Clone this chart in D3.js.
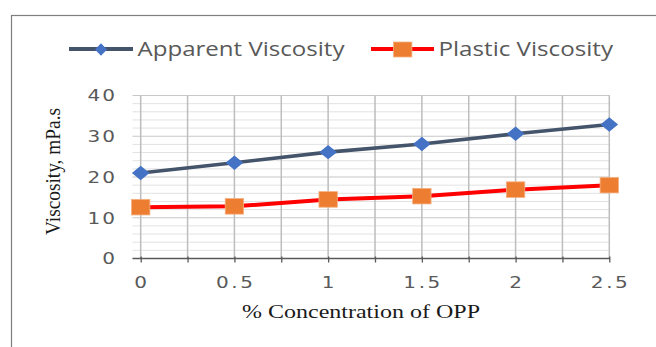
<!DOCTYPE html>
<html>
<head>
<meta charset="utf-8">
<script src="https://cdn.jsdelivr.net/npm/d3@7/dist/d3.min.js"></script>
<style>
  html, body { margin: 0; padding: 0; background: #fff; }
  svg { display: block; }
</style>
</head>
<body>
<svg id="chart" width="656" height="347"></svg>
<script>
// Viscosity versus OPP concentration
const concentrations = [0, 0.5, 1, 1.5, 2, 2.5];
const apparentViscosity = [21, 23.5, 26.1, 28.1, 30.6, 32.9];
const plasticViscosity = [12.6, 12.8, 14.5, 15.3, 16.9, 18.0];
const xTickValues = [0, 0.5, 1, 1.5, 2, 2.5];
const yTickValues = [0, 10, 20, 30, 40];
const seriesNames = ["Apparent Viscosity", "Plastic Viscosity"];

const svg = d3.select("#chart");

// outer frame
svg.append("rect")
  .attr("x", 11.5).attr("y", 15.5)
  .attr("width", 700).attr("height", 400)
  .attr("fill", "none").attr("stroke", "#7f7f7f").attr("stroke-width", 1.2);

const x = d3.scaleLinear().domain([0, 2.5]).range([140.7, 609.3]);
const y = d3.scaleLinear().domain([0, 40]).range([258.5, 95.5]);
const plotLeft = 132.5, plotRight = 610;

// minor horizontal gridlines every 2
const minorY = d3.range(0, 41, 2).filter(v => v % 10 !== 0);
svg.append("g").selectAll("line").data(minorY).join("line")
  .attr("x1", plotLeft).attr("x2", plotRight)
  .attr("y1", d => y(d)).attr("y2", d => y(d))
  .attr("stroke", "#e2e2e2").attr("stroke-width", 1);

// major horizontal gridlines
svg.append("g").selectAll("line").data(yTickValues.filter(v => v > 0)).join("line")
  .attr("x1", plotLeft).attr("x2", plotRight)
  .attr("y1", d => y(d)).attr("y2", d => y(d))
  .attr("stroke", "#c8c8c8").attr("stroke-width", 1.2);

// vertical gridlines every 0.25
const xGrid = d3.range(0, 2.51, 0.25);
svg.append("g").selectAll("line").data(xGrid).join("line")
  .attr("x1", d => x(d)).attr("x2", d => x(d))
  .attr("y1", y(40)).attr("y2", y(0))
  .attr("stroke", "#bdbdbd").attr("stroke-width", 1.5);

// x axis line and ticks
const xAxis = d3.axisBottom(x).tickValues(xGrid).tickSize(4).tickFormat("");
const gx = svg.append("g").attr("transform", `translate(0,${y(0)})`).call(xAxis);
gx.select(".domain").remove();
gx.selectAll(".tick line").attr("stroke", "#595959").attr("stroke-width", 1.3).attr("y1", -2);
svg.append("line")
  .attr("x1", plotLeft).attr("x2", plotRight)
  .attr("y1", y(0)).attr("y2", y(0))
  .attr("stroke", "#595959").attr("stroke-width", 1.5);

// tick label font is drawn slightly widened
const stretch = 1.25;
const fmt = d => String(d);

// x tick labels
svg.append("g").selectAll("text").data(xTickValues).join("text")
  .attr("transform", d => `translate(${x(d)},288) scale(${stretch},1)`)
  .attr("text-anchor", "middle")
  .attr("font-family", "DejaVu Sans").attr("font-size", 16)
  .attr("fill", "#595959")
  .each(function (d) {
    const s = fmt(d);
    const t = d3.select(this).text(s);
    if (s.length > 1) t.attr("textLength", 37 / stretch).attr("lengthAdjust", "spacing");
  });

// y tick labels
svg.append("g").selectAll("text").data(yTickValues).join("text")
  .attr("transform", d => `translate(115,${y(d)}) scale(${stretch},1)`)
  .attr("dy", "0.36em")
  .attr("text-anchor", "end")
  .attr("font-family", "DejaVu Sans").attr("font-size", 16)
  .attr("fill", "#595959")
  .each(function (d) {
    const s = fmt(d);
    const t = d3.select(this).text(s);
    if (s.length > 1) t.attr("textLength", 27.5 / stretch).attr("lengthAdjust", "spacing");
  });

// axis titles
svg.append("text")
  .attr("x", 361).attr("y", 318)
  .attr("text-anchor", "middle")
  .attr("font-family", "Liberation Serif").attr("font-size", 19)
  .attr("fill", "#1a1a1a")
  .attr("textLength", 238).attr("lengthAdjust", "spacingAndGlyphs")
  .text("% Concentration of OPP");

svg.append("text")
  .attr("transform", "translate(60,171.5) rotate(-90) scale(1,1.2)")
  .attr("text-anchor", "middle")
  .attr("font-family", "Liberation Serif").attr("font-size", 17)
  .attr("fill", "#1a1a1a")
  .attr("textLength", 127).attr("lengthAdjust", "spacingAndGlyphs")
  .text("Viscosity, mPa.s");

// series lines
const line = d3.line().x((d, i) => x(concentrations[i])).y(d => y(d));
svg.append("path").datum(apparentViscosity)
  .attr("d", line).attr("fill", "none")
  .attr("stroke", "#44546a").attr("stroke-width", 3.6).attr("stroke-linejoin", "round");
svg.append("path").datum(plasticViscosity)
  .attr("d", line).attr("fill", "none")
  .attr("stroke", "#ff0000").attr("stroke-width", 4).attr("stroke-linejoin", "round");

// markers
const diamond = (w, h) => `M0,${-h}L${w},0L0,${h}L${-w},0Z`;
svg.append("g").selectAll("path").data(apparentViscosity).join("path")
  .attr("transform", (d, i) => `translate(${x(concentrations[i])},${y(d)})`)
  .attr("d", diamond(8.8, 7.2))
  .attr("fill", "#4472c4");

svg.append("g").selectAll("rect").data(plasticViscosity).join("rect")
  .attr("x", (d, i) => x(concentrations[i]) - 9.2)
  .attr("y", d => y(d) - 7.8)
  .attr("width", 18.4).attr("height", 15.6)
  .attr("fill", "#ed7d31").attr("stroke", "#f4b183").attr("stroke-width", 0.8);

// legend
const legend = svg.append("g");
legend.append("line").attr("x1", 69).attr("x2", 133).attr("y1", 49).attr("y2", 49)
  .attr("stroke", "#44546a").attr("stroke-width", 4);
legend.append("path").attr("transform", "translate(101,49.5)").attr("d", diamond(6, 6.3)).attr("fill", "#4472c4");
legend.append("text").attr("x", 137.5).attr("y", 56)
  .attr("font-family", "Open Sans").attr("font-size", 20).attr("fill", "#595959")
  .attr("textLength", 207).attr("lengthAdjust", "spacingAndGlyphs")
  .text(seriesNames[0]);

legend.append("line").attr("x1", 371).attr("x2", 434).attr("y1", 49).attr("y2", 49)
  .attr("stroke", "#ff0000").attr("stroke-width", 4);
legend.append("rect").attr("x", 393.5).attr("y", 42).attr("width", 18.4).attr("height", 15)
  .attr("fill", "#ed7d31").attr("stroke", "#f4b183").attr("stroke-width", 0.8);
legend.append("text").attr("x", 438.5).attr("y", 56)
  .attr("font-family", "Open Sans").attr("font-size", 20).attr("fill", "#595959")
  .attr("textLength", 174.5).attr("lengthAdjust", "spacingAndGlyphs")
  .text(seriesNames[1]);
</script>
</body>
</html>
